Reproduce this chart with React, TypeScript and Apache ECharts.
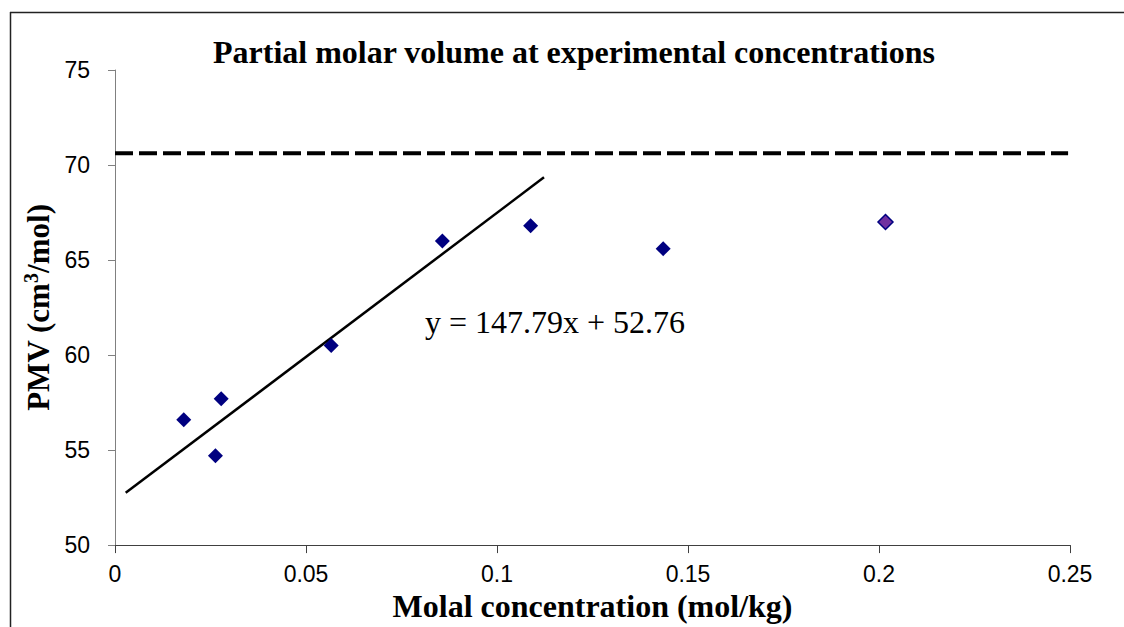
import React, { useEffect, useRef } from "react";
import * as echarts from "echarts";

const titleText = "Partial molar volume at experimental concentrations";
const xAxisName = "Molal concentration (mol/kg)";
const equationText = "y = 147.79x + 52.76";

const concentrations = [0.018, 0.0263, 0.0278, 0.0566, 0.0857, 0.1088, 0.1435, 0.2017];
const pmvValues = [56.6, 54.7, 57.7, 60.5, 66.0, 66.8, 65.6, 67.0];
const trendX = [0.0028, 0.1123];
const trendY = [52.75, 69.35];
const limitX = [0, 0.2495];
const limitY = [70.62, 70.62];

export default function App() {
  const ref = useRef<HTMLDivElement>(null);
  useEffect(() => {
    if (!ref.current) return;
    const chart = echarts.init(ref.current, undefined, { renderer: "svg" });
    const points = concentrations.map((x, i) => {
      const last = i === concentrations.length - 1;
      return {
        value: [x, pmvValues[i]],
        itemStyle: last
          ? { color: "#7030A0", borderColor: "#000080", borderWidth: 1.5, opacity: 1 }
          : { color: "#000080", opacity: 1 },
      };
    });
    chart.setOption({
      animation: false,
      backgroundColor: "#ffffff",
      title: {
        text: titleText,
        left: 208,
        top: 31,
        textStyle: {
          fontFamily: "Liberation Serif",
          fontWeight: "bold",
          fontSize: 32,
          color: "#000",
        },
      },
      grid: { left: 115, width: 955, top: 70, height: 482, containLabel: false },
      xAxis: {
        type: "value",
        min: 0,
        max: 0.25,
        interval: 0.05,
        name: xAxisName,
        nameLocation: "middle",
        nameGap: 38,
        nameTextStyle: {
          fontFamily: "Liberation Serif",
          fontWeight: "bold",
          fontSize: 32,
          color: "#000",
        },
        splitLine: { show: false },
        axisLine: { lineStyle: { color: "#404040", width: 1 } },
        axisTick: { inside: false, length: 8, lineStyle: { color: "#404040" } },
        axisLabel: {
          fontFamily: "Liberation Sans",
          fontSize: 23,
          color: "#000",
          margin: 17,
        },
      },
      yAxis: {
        type: "value",
        min: 50,
        max: 75,
        interval: 5,
        name: "{a|PMV (cm}{s|3}{a|/mol)}",
        nameLocation: "middle",
        nameGap: 60,
        nameRotate: 90,
        nameTextStyle: {
          rich: {
            a: {
              fontFamily: "Liberation Serif",
              fontWeight: "bold",
              fontSize: 31,
              color: "#000",
              lineHeight: 34,
            },
            s: {
              fontFamily: "Liberation Serif",
              fontWeight: "bold",
              fontSize: 20,
              color: "#000",
              verticalAlign: "top",
              lineHeight: 34,
              padding: [0, 0, 12, 0],
            },
          },
        },
        splitLine: { show: false },
        axisLine: { show: true, lineStyle: { color: "#808080", width: 1 } },
        axisTick: { show: true, inside: false, length: 7, lineStyle: { color: "#808080" } },
        axisLabel: {
          fontFamily: "Liberation Sans",
          fontSize: 23,
          color: "#000",
          margin: 25,
        },
      },
      series: [
        {
          type: "line",
          data: limitX.map((x, i) => [x, limitY[i]]),
          symbol: "none",
          lineStyle: { color: "#000", width: 4, type: [18, 6], cap: "butt" },
          z: 1,
        },
        {
          type: "line",
          data: trendX.map((x, i) => [x, trendY[i]]),
          symbol: "none",
          lineStyle: { color: "#000", width: 2.5 },
          z: 2,
        },
        {
          type: "scatter",
          data: points,
          symbol: "diamond",
          symbolSize: 15,
          z: 3,
        },
      ],
      graphic: [
        {
          type: "text",
          left: 425,
          top: 306,
          style: {
            text: equationText,
            fontFamily: "Liberation Serif",
            fontSize: 32,
            fill: "#000",
          },
        },
        {
          type: "line",
          shape: { x1: 10.5, y1: 12, x2: 10.5, y2: 640 },
          style: { stroke: "#222", lineWidth: 1.5 },
        },
        {
          type: "line",
          shape: { x1: 10, y1: 12.5, x2: 1130, y2: 12.5 },
          style: { stroke: "#222", lineWidth: 1.5 },
        },
      ],
    });
    return () => chart.dispose();
  }, []);
  return (
    <div
      ref={ref}
      style={{ position: "fixed", left: 0, top: 0, width: 1124, height: 627 }}
    />
  );
}
